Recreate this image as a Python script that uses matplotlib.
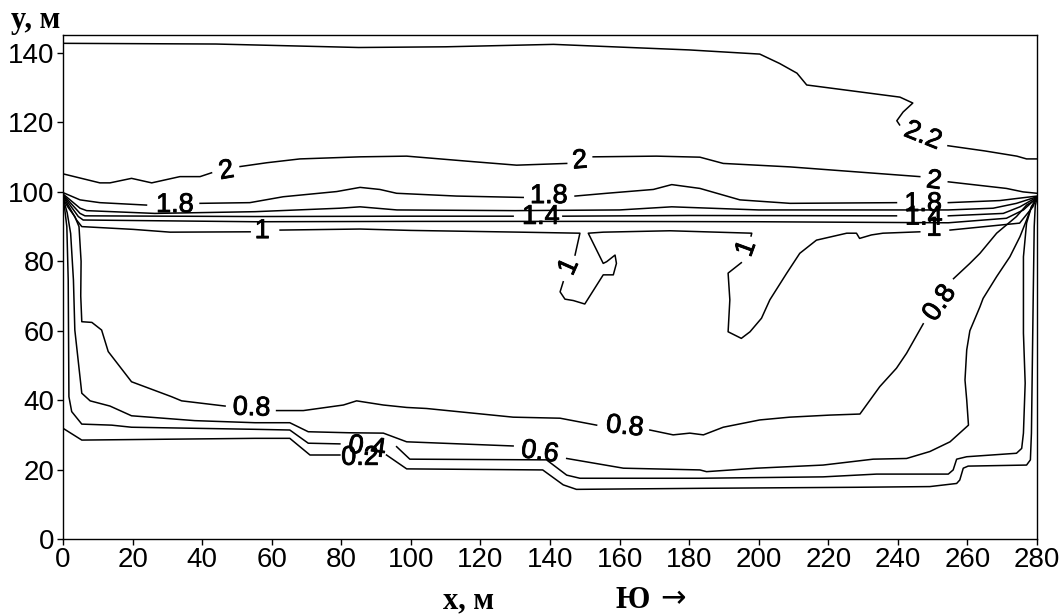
import matplotlib.pyplot as plt
import matplotlib.patheffects as pe
import numpy as np

plt.rcParams['font.family'] = ['Liberation Sans', 'DejaVu Sans']

# contour lines, one list of segments per level (x, y in metres)
c22 = [
    [(0, 142.8), (44, 142.6), (85, 141.6), (110, 141.8), (141, 142.5), (180, 140.9), (200.3, 139.7),
     (206, 137), (211, 134.2), (213.8, 130.8), (223, 129.6), (240.6, 127.3), (244.3, 125.6),
     (241.5, 123), (239.7, 120.5), (240.5, 119.3)],
    [(254.4, 113.3), (265, 111.8), (274.2, 110.3), (277, 109.5), (280, 109.5)],
]
c20 = [
    [(0, 105.2), (10.6, 102.6), (13.5, 102.6), (19.7, 103.9), (25.5, 102.6), (33.6, 104.4),
     (39.4, 104.4), (42.7, 105.5)],
    [(50.9, 107.3), (58.6, 108.4), (68.1, 109.5), (85.4, 110.1), (98.8, 110.3), (118, 108.7),
     (130.4, 107.7), (144.8, 108.2)],
    [(152.4, 110.1), (170.6, 110.3), (183.1, 110), (189.8, 108.2), (209, 107.2), (246.3, 104.4)],
    [(254.5, 102.9), (271.2, 101), (276, 100), (280, 99.6)],
]
c18 = [
    [(0, 99.8), (4.9, 97.7), (10.6, 96.9), (24, 96.2)],
    [(39.4, 96.7), (53.7, 96.9), (63.3, 98.6), (78.7, 100.1), (85.4, 101.3), (91.1, 100.7),
     (95.9, 99.6), (113.1, 98.8), (132.3, 98.4)],
    [(147.2, 98.8), (156.3, 99.6), (169.7, 100.7), (175, 102.1), (183.1, 101), (194.6, 97.7),
     (209, 96.7), (239.6, 96.9)],
    [(254.5, 96.9), (269.3, 97.5), (275, 98.2), (280, 98.8)],
]
c16 = [
    [(0, 99.4), (4.9, 95.3), (6.8, 94.6), (26.4, 93.8), (55.2, 94.3), (79.6, 95.3), (85.4, 95.7),
     (96, 94.8), (130, 94.6), (160, 94.8), (175, 95.7), (200, 94.8), (240, 94.8), (254.5, 94.8),
     (267.4, 95.3), (274.1, 96.7), (280, 98.6)],
]
c14 = [
    [(0, 99.2), (4.9, 93.8), (6.3, 93.1), (55.2, 92.9), (100, 93), (129.4, 93)],
    [(143.7, 93), (180, 93.2), (239.6, 93.1)],
    [(254.5, 93.1), (270.3, 93.8), (275.1, 95.7), (280, 98.5)],
]
c12 = [
    [(0, 99), (4.4, 92.9), (5.8, 91.9), (55.2, 91.4), (100, 91.5), (150, 91.5), (200, 91.4),
     (254.5, 91.1), (271.2, 92.4), (276.1, 94.8), (280, 98.4)],
]
c10 = [
    [(0, 98.8), (3.9, 91.9), (5.4, 90), (20.2, 89.2), (30.8, 88.4), (53.8, 88.5)],
    [(62.4, 89), (85.4, 89.3), (100, 88.9), (131.4, 88.4), (148.6, 88.1), (147.2, 81.8)],
    [(143.8, 74.1), (142.9, 71.2), (144.3, 69.1), (146.7, 68.7), (150, 67.7), (155.3, 76.1),
     (158.2, 76.1), (159.1, 79.4), (158.7, 81.8), (156.3, 79.9), (155.3, 79.4), (151, 88.1),
     (155.3, 88.4), (174.5, 88.8), (198, 88.1), (197.8, 87.3)],
    [(195, 79.6), (191.2, 76.6), (191.7, 68.9), (191.2, 59.7), (195, 57.8), (197.5, 59.7),
     (200.8, 63.6), (203.2, 68.9), (208, 76.5), (211.8, 82.3), (216.6, 86.1), (225.3, 88.1),
     (228.1, 88.1), (229, 86.6), (232.4, 87.6), (235.7, 88.1), (246.3, 88.5)],
    [(255, 89), (275, 91), (278.8, 95.7), (280, 98.5)],
]
c08 = [
    [(0, 98), (1.5, 95.5), (3.4, 92.9), (4.6, 90), (5.2, 80), (5.1, 70), (5.4, 62.6), (8.3, 62.4),
     (11.1, 60.2), (13, 54), (19.7, 45.3), (31.2, 41), (34.1, 39.8), (46.6, 38.3)],
    [(61.4, 37), (69.1, 37), (80.6, 38.6), (84.4, 39.8), (92.1, 38.6), (98.8, 37.9), (104.5, 37.6),
     (129.4, 35.1), (142.9, 34.8), (153.4, 32.8)],
    [(168.7, 31.4), (175.4, 30), (180.2, 30.5), (184.1, 30), (189.8, 32.2), (200.3, 34.3),
     (208.9, 35.1), (220.5, 35.7), (229.1, 36), (234.8, 43.9), (239.6, 49.2), (242.5, 53.5),
     (247.3, 62)],
    [(256, 75), (260.7, 79.4), (263.6, 82.3), (268.4, 88.1), (274.1, 92.9), (277, 96.2), (280, 98)],
]
c06 = [
    [(0, 98.4), (1.2, 94), (2.2, 88), (3, 74.6), (3.4, 60.2), (5.4, 42), (7.8, 39.8), (13.5, 38.3),
     (19.7, 35.5), (37.9, 34.1), (55.2, 33.5), (65.2, 33.5), (70.5, 30.9), (82.5, 30.6),
     (92.1, 30.5), (98.8, 28), (129.4, 26.8)],
    [(144.8, 23.2), (161.1, 20.4), (183.1, 19.9), (185, 19.4), (199.4, 20.4), (218.5, 21.3),
     (232.9, 23), (242.5, 23.2), (249.2, 25.2), (255, 28), (260.3, 32.8), (259.8, 40),
     (259.3, 45.8), (259.8, 54.5), (260.7, 60), (263.6, 66.9), (264.5, 69.3), (268.4, 75.6),
     (272.2, 81.3), (275.1, 87.1), (277, 91.9), (278.4, 95.7), (280, 98.3)],
]
c04 = [
    [(0, 97.8), (0.5, 95), (1.1, 90), (1.5, 74.6), (1.7, 41), (2.5, 36.7), (5.4, 33.1), (14, 32.8),
     (19.7, 32.2), (55.2, 31.6), (65.2, 31.4), (70.5, 27.6), (79.6, 27.4)],
    [(95.9, 26.6), (99.7, 23), (139, 22.8), (144.8, 18.4), (148.6, 17.5), (183.1, 17.5),
     (218.5, 17.9), (233.9, 18.7), (254.5, 18.7), (255.9, 19.9), (256.9, 23), (259.8, 23.7),
     (274.1, 24.7), (275.6, 26.1), (276.1, 30.5), (276.6, 44.9), (276.1, 59.3), (276.1, 68.9),
     (276.1, 81.3), (277, 91), (278.4, 95.7), (280, 98.2)],
]
c02 = [
    [(0, 31.9), (5.4, 28.5), (55.2, 29), (65.2, 29), (71, 24.2), (79.6, 24.2)],
    [(93, 24.2), (98.8, 20.2), (137.9, 19.9), (143.8, 15.6), (147.6, 14.3), (183.1, 14.6),
     (228.1, 14.9), (249.2, 15.1), (256.9, 16), (257.8, 17), (258.8, 20.4), (260.2, 21),
     (277, 21.3), (278.1, 22.8), (278.4, 30.5), (278.9, 68.9), (279.2, 90), (279.5, 96),
     (280, 98.2)],
]

# inline contour labels
lab_text = ['2.2', '2', '2', '2', '1.8', '1.8', '1.8', '1.4', '1.4',
            '1', '1', '1', '1', '0.8', '0.8', '0.8', '0.6', '0.4', '0.2']
lab_x = [247.2, 47, 148.6, 250.4, 32.2, 139.7, 247.3, 137.4, 247.5,
         57.3, 145.5, 196.5, 250.4, 54.2, 161.5, 252.1, 137.1, 87.4, 85.4]
lab_y = [116.1, 106, 108.9, 103.1, 96.2, 98.8, 96.5, 92.8, 92.6,
         88.7, 78.4, 83.7, 89.4, 37.7, 32.3, 67.9, 24.9, 26.3, 23.4]
lab_rot = [-22, 10, 5, -8, 0, 0, 0, 0, 0,
           0, 66, 70, 0, -2, -6, 55, -8, -8, 0]

fig = plt.figure(figsize=(10.59, 6.15), dpi=100)
ax = fig.add_axes([63 / 1059, 76 / 615, 974 / 1059, 504 / 615])

for level in [c22, c20, c18, c16, c14, c12, c10, c08, c06, c04, c02]:
    for seg in level:
        pts = np.array(seg)
        ax.plot(pts[:, 0], pts[:, 1], color='black', lw=1.1, solid_joinstyle='round')

heavy = [pe.withStroke(linewidth=0.6, foreground='black')]
for t, x, y, r in zip(lab_text, lab_x, lab_y, lab_rot):
    ax.text(x, y, t, fontsize=19.5, rotation=r, rotation_mode='anchor',
            ha='center', va='center', color='black', path_effects=heavy)

ax.set_xlim(0, 280)
ax.set_ylim(0, 145.2)
ax.set_xticks(np.arange(0, 281, 20))
ax.set_yticks(np.arange(0, 141, 20))
ax.tick_params(direction='out', length=4.5, width=1, labelsize=20, pad=1.5,
               top=False, right=False)
for s in ax.spines.values():
    s.set_linewidth(1.0)

serif = ['Liberation Serif', 'DejaVu Serif']
fig.text(11 / 1059, 1 - 28 / 615, 'y, м', fontsize=22, fontweight='bold', family=serif,
         va='baseline', ha='left')
fig.text(443 / 1059, 1 - 608 / 615, 'x, м', fontsize=22, fontweight='bold', family=serif,
         va='baseline', ha='left')
fig.text(616 / 1059, 1 - 608 / 615, 'Ю', fontsize=22, fontweight='bold', family=serif,
         va='baseline', ha='left')
fig.text(660 / 1059, 1 - 607 / 615, '→', fontsize=22, family=['DejaVu Sans'],
         va='baseline', ha='left')

fig.savefig('out.png', dpi=100)
